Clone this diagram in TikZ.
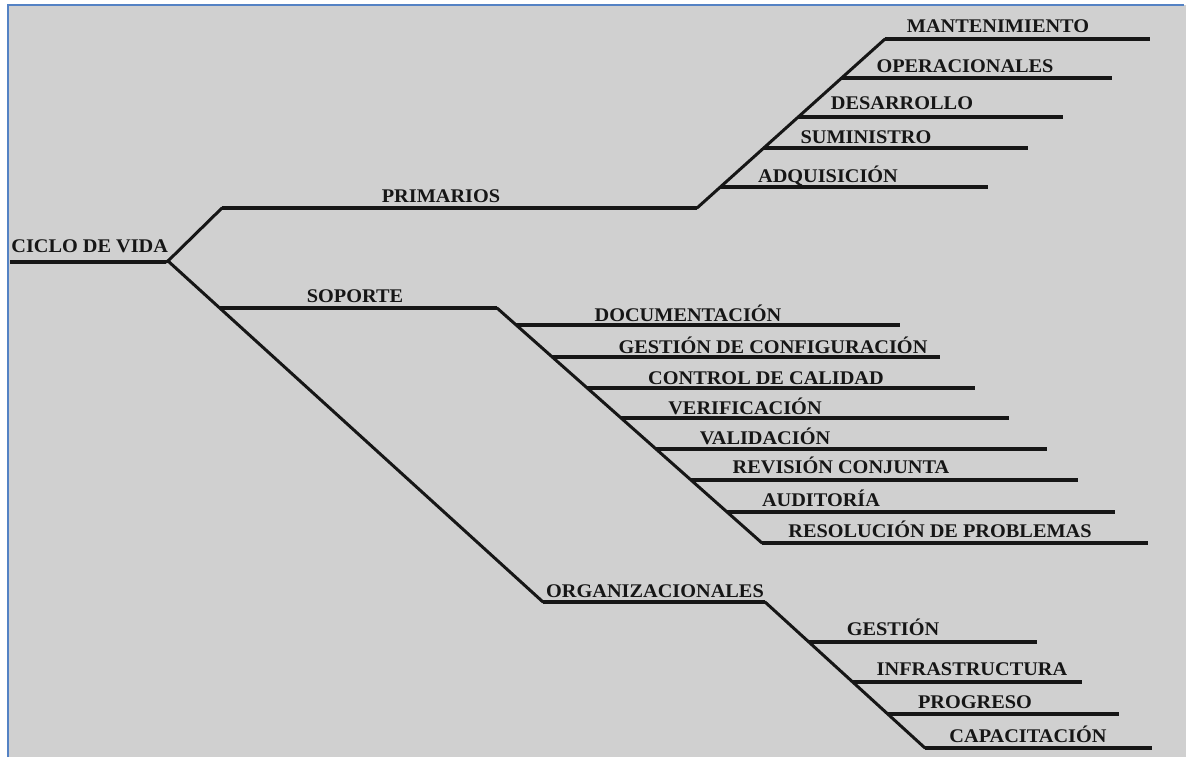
\documentclass[tikz,border=0pt]{standalone}
\usepackage{fontspec}
\setmainfont[FakeStretch=1.05]{Liberation Serif}
\definecolor{bggray}{RGB}{208,208,208}
\definecolor{frameblue}{RGB}{84,130,196}
\definecolor{ink}{RGB}{22,22,22}
\begin{document}
\begin{tikzpicture}[x=0.02cm,y=-0.02cm,
  lbl/.style={font=\bfseries\fontsize{11}{13}\selectfont, text=ink, inner sep=0pt, anchor=base},
  hline/.style={draw=ink, line width=0.082cm, line cap=butt},
  dline/.style={draw=ink, line width=0.06cm, line cap=round}]
\useasboundingbox (0,0) rectangle (1186,757);
\fill[white] (0,0) rectangle (1186,757);
\fill[bggray] (8,5) rectangle (1186,757);
\draw[frameblue, line width=0.04cm] (8,757) -- (8,5) -- (1184,5);

% root
\coordinate (cicloL) at (10,262);
\coordinate (root) at (168,261);
\draw[hline] (cicloL) -- (166,262);
\draw[dline] (166,262) -- (root);
\node[lbl, anchor=base west] (ciclo) at (11,252) {CICLO DE VIDA};

% primarios
\coordinate (p1) at (222,208);
\coordinate (p2) at (697,208);
\coordinate (ptop) at (885,39);
\draw[dline] (root) -- (p1);
\draw[hline] (p1) -- (p2);
\draw[dline] (p2) -- (ptop);
\node[lbl] (prim) at (441,202) {PRIMARIOS};
\foreach \n/\xs/\y/\xe/\xm/\b/\t in {
  man/885/39/1150/998/33/MANTENIMIENTO,
  ope/841.6/78/1112/965/72/OPERACIONALES,
  des/798.2/117/1063/902/110/DESARROLLO,
  sum/763.7/148/1028/866/143/SUMINISTRO,
  adq/720.4/187/988/828/182/ADQUISICIÓN}{
  \coordinate (\n s) at (\xs,\y);
  \coordinate (\n e) at (\xe,\y);
  \draw[hline] (\n s) -- (\n e);
  \node[lbl] (\n) at (\xm,\b) {\t};
}

% soporte
\coordinate (s1) at (220,308);
\coordinate (s2) at (497,308);
\coordinate (sbot) at (762,543);
\draw[hline] (s1) -- (s2);
\draw[dline] (s2) -- (sbot);
\node[lbl] (sop) at (355,302) {SOPORTE};
\foreach \n/\xs/\y/\xe/\xm/\b/\t in {
  doc/516.2/325/900/688/321/DOCUMENTACIÓN,
  gco/552.3/357/940/773/353/GESTIÓN DE CONFIGURACIÓN,
  cca/587.2/388/975/766/384/CONTROL DE CALIDAD,
  ver/621/418/1009/745/414/VERIFICACIÓN,
  val/656/449/1047/765/444/VALIDACIÓN,
  rev/691/480/1078/841/473/REVISIÓN CONJUNTA,
  aud/727/512/1115/821/506/AUDITORÍA,
  res/762/543/1148/940/537/RESOLUCIÓN DE PROBLEMAS}{
  \coordinate (\n s) at (\xs,\y);
  \coordinate (\n e) at (\xe,\y);
  \draw[hline] (\n s) -- (\n e);
  \node[lbl] (\n) at (\xm,\b) {\t};
}

% organizacionales
\coordinate (o1) at (543,602);
\coordinate (o2) at (765,602);
\coordinate (obot) at (925,748);
\draw[dline] (root) -- (o1);
\draw[hline] (o1) -- (o2);
\draw[dline] (o2) -- (obot);
\node[lbl] (org) at (655,597) {ORGANIZACIONALES};
\foreach \n/\xs/\y/\xe/\xm/\b/\t in {
  ges/808.8/642/1037/893/635/GESTIÓN,
  inf/852.7/682/1082/972/675/INFRASTRUCTURA,
  pro/887.7/714/1119/975/708/PROGRESO,
  cap/925/748/1152/1028/742/CAPACITACIÓN}{
  \coordinate (\n s) at (\xs,\y);
  \coordinate (\n e) at (\xe,\y);
  \draw[hline] (\n s) -- (\n e);
  \node[lbl] (\n) at (\xm,\b) {\t};
}
\end{tikzpicture}
\end{document}
